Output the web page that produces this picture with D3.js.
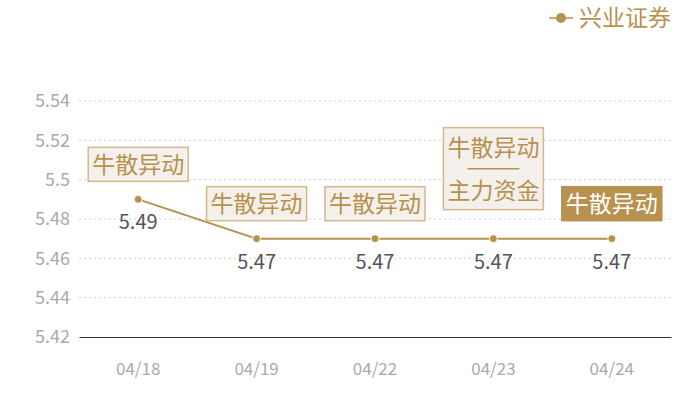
<!DOCTYPE html>
<html>
<head>
<meta charset="utf-8">
<script src="https://cdn.jsdelivr.net/npm/d3@7"></script>
<style>
  html, body { margin: 0; padding: 0; background: #fff; }
  svg { display: block; font-family: "Noto Sans CJK SC", "Noto Sans", sans-serif; }
</style>
</head>
<body>
<svg id="chart" width="700" height="400"></svg>
<script>
"use strict";

const dates = ["04/18", "04/19", "04/22", "04/23", "04/24"];
const prices = [5.49, 5.47, 5.47, 5.47, 5.47];
const yTicks = [5.42, 5.44, 5.46, 5.48, 5.5, 5.52, 5.54];
// tags above each point, one array per day (several lines -> separator)
const tags = [["牛散异动"], ["牛散异动"], ["牛散异动"], ["牛散异动", "主力资金"], ["牛散异动"]];
const seriesName = "兴业证券";

const gold = "#b8914f";
const margin = { top: 101, right: 29, bottom: 63, left: 79 };
const width = 700, height = 400;

const svg = d3.select("#chart");

const x = d3.scaleBand()
  .domain(dates)
  .range([margin.left, width - margin.right]);

const y = d3.scaleLinear()
  .domain([5.42, 5.54])
  .range([height - margin.bottom, margin.top]);

const cx = (d) => x(d) + x.bandwidth() / 2;

// grid lines
svg.append("g")
  .selectAll("line")
  .data(yTicks.slice(1))
  .enter()
  .append("line")
  .attr("x1", margin.left)
  .attr("x2", width - margin.right)
  .attr("y1", (d) => y(d))
  .attr("y2", (d) => y(d))
  .attr("stroke", "#cfcfcf")
  .attr("stroke-dasharray", "2,3");

// y axis labels
const yAxis = svg.append("g")
  .attr("transform", `translate(${margin.left},0)`)
  .call(d3.axisLeft(y).tickValues(yTicks).tickSize(0).tickPadding(9).tickFormat((d) => String(+d.toFixed(2))));
yAxis.select(".domain").remove();
yAxis.selectAll("text")
  .attr("fill", "#aaa")
  .attr("font-size", 18)
  .attr("font-family", "\"Noto Sans CJK SC\", sans-serif");

// x axis
const xAxis = svg.append("g")
  .attr("transform", `translate(0,${y(5.42)})`)
  .call(d3.axisBottom(x).tickSize(0).tickPadding(26));
xAxis.select(".domain").attr("stroke", "#333").attr("stroke-width", 1);
xAxis.selectAll("text")
  .attr("fill", "#aaa")
  .attr("font-size", 17)
  .attr("font-family", "\"Noto Sans CJK SC\", sans-serif");

// line
const points = dates.map((d, i) => ({ date: d, value: prices[i], tags: tags[i] }));
const line = d3.line()
  .x((d) => cx(d.date))
  .y((d) => y(d.value));

svg.append("path")
  .datum(points)
  .attr("d", line)
  .attr("fill", "none")
  .attr("stroke", gold)
  .attr("stroke-width", 2);

svg.append("g")
  .selectAll("circle")
  .data(points)
  .enter()
  .append("circle")
  .attr("cx", (d) => cx(d.date))
  .attr("cy", (d) => y(d.value))
  .attr("r", 4)
  .attr("fill", gold)
  .attr("stroke", "#fff")
  .attr("stroke-width", 1);

// value labels
svg.append("g")
  .selectAll("text")
  .data(points)
  .enter()
  .append("text")
  .attr("x", (d) => cx(d.date))
  .attr("y", (d) => y(d.value) + 30)
  .attr("text-anchor", "middle")
  .attr("font-size", 20)
  .attr("fill", "#555")
  .text((d) => d.value.toFixed(2));

// tag boxes
const boxW = 100, lineH = 34, sepH = 14;
const tagGroup = svg.append("g")
  .selectAll("g")
  .data(points)
  .enter()
  .append("g")
  .attr("transform", (d) => `translate(${cx(d.date)},${y(d.value) - 18 - (d.tags.length - 1) * 11})`);

tagGroup.each(function (d, i) {
  const g = d3.select(this);
  const last = i === points.length - 1;
  const n = d.tags.length;
  const h = n * lineH + (n - 1) * sepH;
  g.append("rect")
    .attr("x", -boxW / 2)
    .attr("y", -h)
    .attr("width", boxW)
    .attr("height", h)
    .attr("fill", last ? gold : "#f4f0eb")
    .attr("stroke", last ? gold : "#d4b88c")
    .attr("stroke-width", 1.5);
  d.tags.forEach((t, k) => {
    const top = -h + k * (lineH + sepH) + (n > 1 ? (k === 0 ? 3 : -2) : 0);
    g.append("text")
      .attr("x", 0)
      .attr("y", top + lineH / 2)
      .attr("dy", "0.36em")
      .attr("text-anchor", "middle")
      .attr("font-size", 23)
      .attr("fill", last ? "#fff" : gold)
      .text(t);
    if (k < n - 1) {
      g.append("line")
        .attr("x1", -26)
        .attr("x2", 26)
        .attr("y1", -h + lineH + sepH / 2)
        .attr("y2", -h + lineH + sepH / 2)
        .attr("stroke", gold)
        .attr("stroke-width", 1.5);
    }
  });
});

// legend
const legend = svg.append("g").attr("transform", "translate(561,18)");
legend.append("line")
  .attr("x1", -12).attr("x2", 12)
  .attr("stroke", gold).attr("stroke-width", 1.5);
legend.append("circle").attr("r", 5).attr("fill", gold);
legend.append("text")
  .attr("x", 18)
  .attr("dy", "0.36em")
  .attr("font-size", 23)
  .attr("fill", gold)
  .text(seriesName);
</script>
</body>
</html>
